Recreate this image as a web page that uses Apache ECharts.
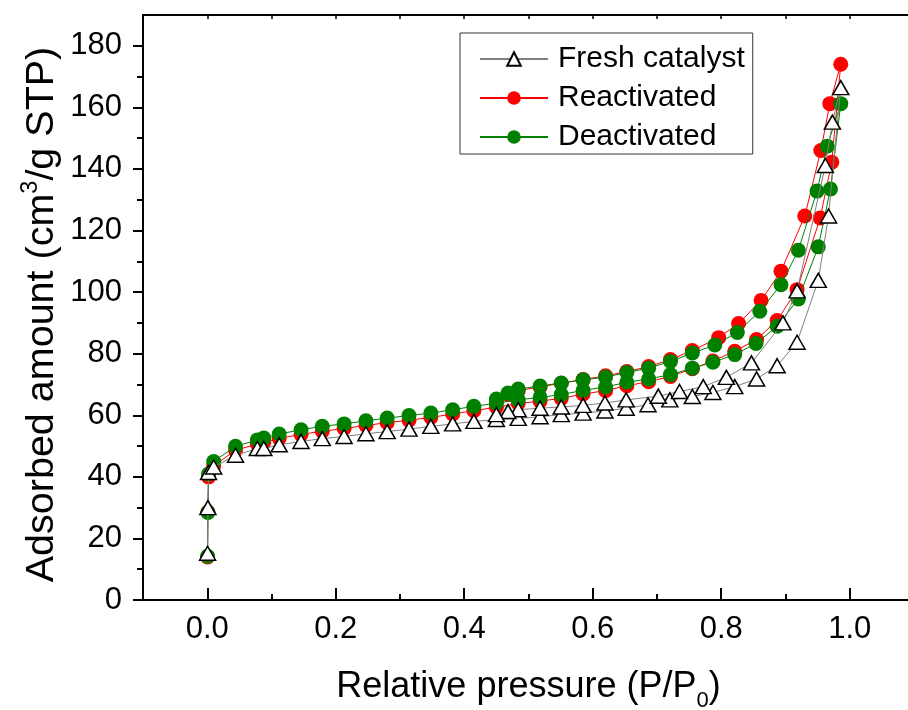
<!DOCTYPE html>
<html>
<head>
<meta charset="utf-8">
<script src="https://cdn.jsdelivr.net/npm/echarts@6/dist/echarts.min.js"></script>
<style>
  html, body { margin: 0; padding: 0; background: #fff; }
  #chart { width: 908px; height: 710px; }
</style>
</head>
<body>
<div id="chart"></div>
<script>
// N2 isotherms: [relative pressure P/P0, adsorbed amount cm3/g STP]
// Adsorption branch (rising pressure) then desorption branch (falling pressure)
const freshAds = [
  [0.0005, 15.2], [0.001, 30.0], [0.002, 41.4], [0.01, 43.2], [0.044, 47.0],
  [0.078, 49.2], [0.088, 49.2], [0.112, 50.4], [0.146, 51.5], [0.179, 52.4],
  [0.213, 53.1], [0.247, 54.0], [0.28, 54.7], [0.314, 55.5], [0.348, 56.4],
  [0.382, 57.2], [0.415, 58.0], [0.45, 58.6], [0.484, 59.0], [0.518, 59.5],
  [0.551, 60.2], [0.585, 60.7], [0.619, 61.4], [0.652, 62.3], [0.686, 63.4],
  [0.72, 65.0], [0.755, 66.1], [0.787, 67.4], [0.821, 69.3], [0.855, 71.8],
  [0.887, 76.1], [0.918, 83.7], [0.951, 103.8], [0.967, 124.7], [0.986, 166.4]
];
const freshDes = [
  [0.973, 155.2], [0.962, 141.1], [0.918, 100.4], [0.896, 90.0], [0.847, 77.0],
  [0.808, 72.3], [0.772, 69.3], [0.735, 67.7], [0.702, 66.2], [0.652, 65.0],
  [0.619, 64.0], [0.585, 63.2], [0.551, 62.7], [0.518, 62.3], [0.484, 61.8],
  [0.468, 61.2], [0.45, 60.2]
];
const reacAds = [
  [0.0005, 14.0], [0.001, 28.6], [0.002, 40.0], [0.01, 43.6], [0.044, 48.6],
  [0.078, 50.7], [0.088, 51.2], [0.112, 52.5], [0.146, 53.8], [0.179, 54.8],
  [0.213, 55.7], [0.247, 56.7], [0.28, 57.6], [0.314, 58.4], [0.348, 59.3],
  [0.382, 60.4], [0.415, 61.5], [0.45, 62.6], [0.484, 63.8], [0.518, 64.6],
  [0.551, 65.5], [0.585, 66.9], [0.62, 68.0], [0.653, 69.6], [0.687, 70.9],
  [0.721, 72.6], [0.755, 75.1], [0.787, 77.6], [0.821, 80.8], [0.855, 84.6],
  [0.887, 90.8], [0.918, 100.8], [0.954, 124.1], [0.972, 142.2], [0.986, 174.0]
];
const reacDes = [
  [0.969, 161.2], [0.955, 146.0], [0.93, 124.7], [0.893, 106.8], [0.862, 97.3],
  [0.827, 89.8], [0.796, 85.2], [0.755, 81.0], [0.721, 78.1], [0.687, 75.8],
  [0.653, 74.2], [0.62, 72.8], [0.585, 71.6], [0.551, 70.4], [0.518, 69.2],
  [0.484, 68.0], [0.468, 66.8], [0.45, 64.6]
];
const deacAds = [
  [0.0005, 14.2], [0.001, 28.4], [0.002, 40.9], [0.01, 45.0], [0.044, 49.9],
  [0.078, 52.0], [0.088, 52.6], [0.112, 53.9], [0.146, 55.3], [0.179, 56.4],
  [0.213, 57.2], [0.247, 58.2], [0.28, 59.1], [0.314, 59.9], [0.348, 60.7],
  [0.382, 61.8], [0.415, 62.9], [0.45, 63.9], [0.484, 65.0], [0.518, 65.8],
  [0.551, 66.7], [0.585, 68.1], [0.62, 69.2], [0.653, 70.7], [0.687, 71.8],
  [0.721, 73.2], [0.755, 75.3], [0.787, 77.2], [0.821, 79.7], [0.854, 83.3],
  [0.887, 88.9], [0.92, 97.8], [0.951, 114.7], [0.97, 133.5], [0.986, 161.2]
];
const deacDes = [
  [0.965, 147.4], [0.949, 132.8], [0.92, 113.6], [0.893, 102.4], [0.86, 93.8],
  [0.825, 86.9], [0.79, 82.8], [0.755, 80.2], [0.721, 77.5], [0.687, 75.3],
  [0.653, 73.9], [0.62, 72.4], [0.585, 71.5], [0.551, 70.5], [0.518, 69.5],
  [0.484, 68.5], [0.468, 67.2], [0.45, 65.3]
];

const seriesNames = ['Fresh catalyst', 'Reactivated', 'Deactivated'];

// Tick positions
const xMajorTicks = [0.0, 0.2, 0.4, 0.6, 0.8, 1.0];
const xMinorTicks = [0.1, 0.3, 0.5, 0.7, 0.9];
const xTopTicks = [0.0, 0.1, 0.2, 0.3, 0.4, 0.5, 0.6, 0.7, 0.8, 0.9, 1.0];
const yMajorTicks = [0, 20, 40, 60, 80, 100, 120, 140, 160, 180];
const yMinorTicks = [10, 30, 50, 70, 90, 110, 130, 150, 170];

const FONT = 'Liberation Sans, Arial, Helvetica, sans-serif';
const X_MIN = -0.1, X_MAX = 1.1, Y_MIN = 0, Y_MAX = 190;
const black = '#000';

const chart = echarts.init(document.getElementById('chart'), null, { renderer: 'canvas' });

const baseX = {
  type: 'value', min: X_MIN, max: X_MAX, gridIndex: 0,
  splitLine: { show: false }
};
const baseY = {
  type: 'value', min: Y_MIN, max: Y_MAX, gridIndex: 0,
  splitLine: { show: false }
};

chart.setOption({
  animation: false,
  backgroundColor: '#fff',
  textStyle: { fontFamily: FONT, color: black },
  grid: { left: 143, right: -6, top: 15, bottom: 110, containLabel: false, outerBoundsMode: 'none' },
  legend: {
    data: seriesNames,
    orient: 'vertical',
    left: 460, top: 33,
    itemWidth: 68, itemHeight: 17, itemGap: 9,
    padding: [11, 8, 2, 19],
    borderColor: '#333', borderWidth: 1,
    textStyle: { fontSize: 30, color: black, fontFamily: FONT, lineHeight: 30, padding: [0, 0, 0, 5] }
  },
  xAxis: [
    Object.assign({}, baseX, {
      position: 'bottom',
      name: 'Relative pressure (P/P{sub|0})',
      nameLocation: 'middle', nameGap: 62, nameMoveOverlap: false,
      nameTextStyle: {
        fontSize: 36, color: black, fontFamily: FONT, lineHeight: 50,
        rich: { sub: { fontSize: 22, lineHeight: 22, verticalAlign: 'bottom', color: black, fontFamily: FONT } }
      },
      axisLine: { show: true, onZero: false, lineStyle: { color: black, width: 2 } },
      axisTick: { show: true, inside: true, length: 12, customValues: xMajorTicks, lineStyle: { color: black, width: 2 } },
      axisLabel: {
        show: true, customValues: xMajorTicks, margin: 14,
        fontSize: 31, color: black, fontFamily: FONT,
        formatter: v => v.toFixed(1)
      }
    }),
    Object.assign({}, baseX, {
      position: 'bottom',
      axisLine: { show: false, onZero: false },
      axisTick: { show: true, inside: true, length: 6, customValues: xMinorTicks, lineStyle: { color: black, width: 2 } },
      axisLabel: { show: false }
    }),
    Object.assign({}, baseX, {
      position: 'top',
      axisLine: { show: true, onZero: false, lineStyle: { color: black, width: 2 } },
      axisTick: { show: true, inside: true, length: 4, customValues: xTopTicks, lineStyle: { color: black, width: 1.5 } },
      axisLabel: { show: false }
    })
  ],
  yAxis: [
    Object.assign({}, baseY, {
      position: 'left',
      name: 'Adsorbed amount (cm{sup|3}/g STP)',
      nameLocation: 'middle', nameGap: 78, nameMoveOverlap: false,
      nameTextStyle: {
        fontSize: 39.5, color: black, fontFamily: FONT, lineHeight: 46,
        padding: [0, 14, 0, 0],
        rich: { sup: { fontSize: 23.5, lineHeight: 23, verticalAlign: 'top', color: black, fontFamily: FONT } }
      },
      axisLine: { show: true, onZero: false, lineStyle: { color: black, width: 2 } },
      axisTick: { show: true, inside: false, length: 10, customValues: yMajorTicks, lineStyle: { color: black, width: 2 } },
      axisLabel: { show: true, customValues: yMajorTicks, margin: 21, fontSize: 31, color: black, fontFamily: FONT }
    }),
    Object.assign({}, baseY, {
      position: 'left',
      axisLine: { show: false, onZero: false },
      axisTick: { show: true, inside: false, length: 6, customValues: yMinorTicks, lineStyle: { color: black, width: 2 } },
      axisLabel: { show: false }
    })
  ],
  series: [
    {
      name: 'Reactivated', type: 'line', xAxisIndex: 0, yAxisIndex: 0,
      data: reacAds.concat(reacDes),
      symbol: 'circle', symbolSize: 15,
      itemStyle: { color: '#ff0000' },
      lineStyle: { color: '#ff0000', width: 1 },
      emphasis: { disabled: true }, z: 2
    },
    {
      name: 'Deactivated', type: 'line', xAxisIndex: 0, yAxisIndex: 0,
      data: deacAds.concat(deacDes),
      symbol: 'circle', symbolSize: 15,
      itemStyle: { color: '#008000' },
      lineStyle: { color: '#008000', width: 1 },
      emphasis: { disabled: true }, z: 3
    },
    {
      name: 'Fresh catalyst', type: 'line', xAxisIndex: 0, yAxisIndex: 0,
      data: freshAds.concat(freshDes),
      symbol: 'triangle', symbolSize: [16, 14],
      itemStyle: { color: '#ffffff', borderColor: black, borderWidth: 1.5 },
      lineStyle: { color: '#808080', width: 1 },
      emphasis: { disabled: true }, z: 4
    }
  ]
});
</script>
</body>
</html>
